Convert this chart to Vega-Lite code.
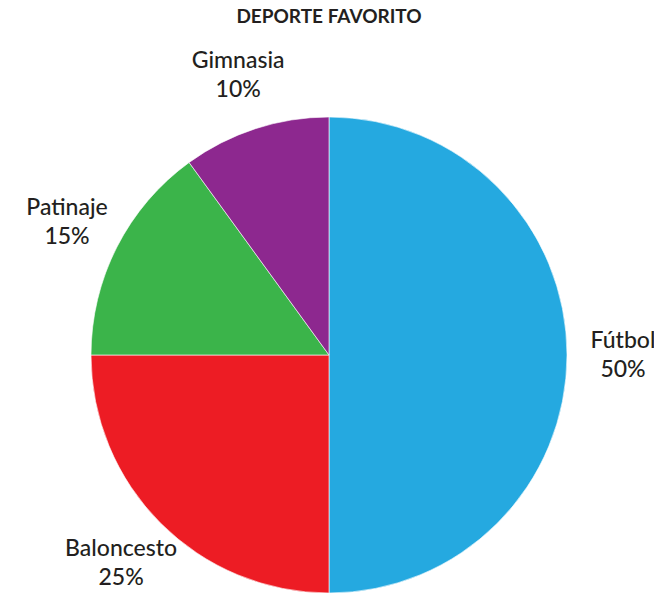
{
  "$schema": "https://vega.github.io/schema/vega-lite/v6.json",
  "autosize": "none",
  "width": 476,
  "height": 476,
  "padding": {"left": 91, "top": 117, "right": 87, "bottom": 0},
  "background": "white",
  "title": {
    "text": "DEPORTE FAVORITO",
    "font": "Lato",
    "fontSize": 19,
    "fontWeight": "bold",
    "color": "#231F20",
    "anchor": "middle",
    "frame": "group",
    "offset": 23
  },
  "data": {
    "values": [
      {"deporte": "Fútbol", "porcentaje": 0.50, "orden": 1},
      {"deporte": "Baloncesto", "porcentaje": 0.25, "orden": 2},
      {"deporte": "Patinaje", "porcentaje": 0.15, "orden": 3},
      {"deporte": "Gimnasia", "porcentaje": 0.10, "orden": 4}
    ]
  },
  "encoding": {
    "theta": {"field": "porcentaje", "type": "quantitative", "stack": true},
    "order": {"field": "orden", "type": "ordinal"}
  },
  "layer": [
    {
      "mark": {"type": "arc", "stroke": "white", "strokeWidth": 0.6},
      "encoding": {
        "color": {
          "field": "deporte",
          "type": "nominal",
          "scale": {
            "domain": ["Fútbol", "Baloncesto", "Patinaje", "Gimnasia"],
            "range": ["#25A9E0", "#ED1C24", "#3BB44A", "#8D288F"]
          },
          "legend": null
        }
      }
    },
    {
      "mark": {"type": "text", "radius": 294, "dy": -14, "font": "Lato", "fontSize": 23, "fontWeight": 500, "color": "#231F20"},
      "encoding": {"text": {"field": "deporte", "type": "nominal"}}
    },
    {
      "mark": {"type": "text", "radius": 294, "dy": 15, "font": "Lato", "fontSize": 23, "fontWeight": 500, "color": "#231F20"},
      "encoding": {"text": {"field": "porcentaje", "type": "quantitative", "format": ".0%"}}
    }
  ]
}
